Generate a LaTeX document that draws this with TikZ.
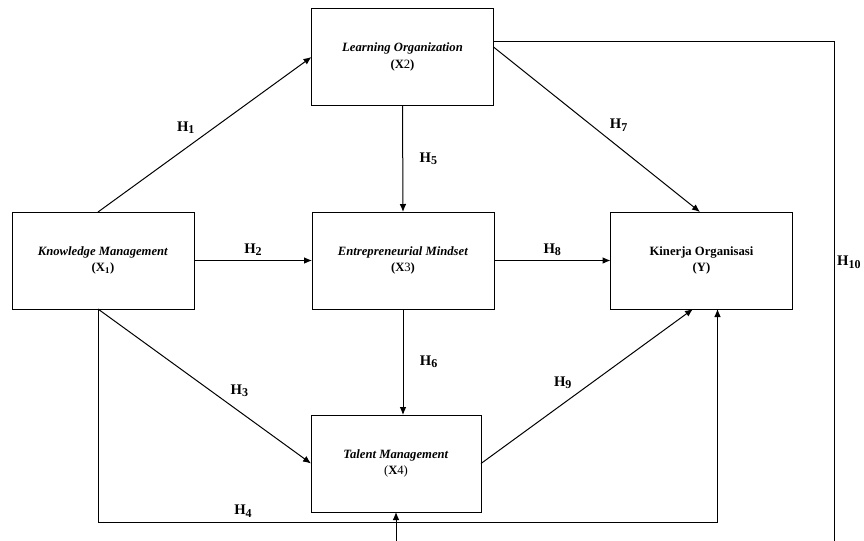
\documentclass[tikz,border=0pt]{standalone}
\usepackage{fontspec}
\setmainfont{Liberation Serif}
\usetikzlibrary{arrows.meta,positioning,calc}
\tikzset{
  >={Latex[length=6pt,width=5pt]},
  var/.style={draw, align=center, minimum width=136.5pt, minimum height=72.75pt, inner sep=2pt, outer sep=0pt, font=\fontsize{9.5}{12.5}\selectfont},
  smallvar/.style={var, minimum width=127.5pt},
  hyp/.style={font=\fontsize{11}{13}\selectfont\bfseries},
}
\newcommand{\hlab}[1]{H\raisebox{-0.35ex}{\fontsize{9}{10}\selectfont #1}}

\begin{document}
\begin{tikzpicture}[x=0.75pt, y=-0.75pt, line width=0.75pt]
  \useasboundingbox (0,0) rectangle (864,540);
  \clip (0,0) rectangle (864,540);

  \node[var] (lo) at (402.5,57) {\textbf{\textit{Learning Organization}}\\\textbf{(X}2\textbf{)}};
  \node[var] (km) at (103,260.5) {\textbf{\textit{Knowledge Management}}\\\textbf{(X\textsubscript{1})}};
  \node[var] (em) at (403,260.5) {\textbf{\textit{Entrepreneurial Mindset}}\\\textbf{(X}3\textbf{)}};
  \node[var] (y) at (701.5,260.5) {\textbf{Kinerja Organisasi}\\\textbf{(Y)}};
  \node[smallvar] (tm) at (396,463.5) {\textbf{\textit{Talent Management}}\\(\textbf{X}4)};

  \coordinate (kmb) at ($(km.south)+(-5,0)$);
  \coordinate (rbend) at (834,560);

  \draw[->] ($(km.north)+(-5,0)$) -- node[hyp, pos=0.475, above left] {\hlab{1}} (lo.west);
  \draw[->] (km.east) -- node[hyp, above] {\hlab{2}} (em.west);
  \draw[->] (kmb) -- node[hyp, pos=0.6, above right] {\hlab{3}} (tm.west);
  \draw[->] (kmb) -- ++(0,213) -| node[hyp, pos=0.117, above] {\hlab{4}} ($(y.south)+(16,0)$);
  \draw[->] (lo.south) -- node[hyp, right=9pt] {\hlab{5}} (em.north);
  \draw[->] (em.south) -- node[hyp, right=9pt] {\hlab{6}} (em.south |- tm.north);
  \draw[->] ($(lo.east)+(0,-10)$) -- node[hyp, pos=0.54, above right] {\hlab{7}} ($(y.north)+(-1.5,0)$);
  \draw[->] (em.east) -- node[hyp, above] {\hlab{8}} (y.west);
  \draw[->] (tm.east) -- node[hyp, pos=0.45, above left] {\hlab{9}} ($(y.south)+(-8.5,0)$);
  \draw[->] ($(lo.east)+(0,-16)$) -| node[hyp, pos=0.713, right=0.5pt, inner sep=1.5pt] {\hlab{10}} (rbend) -| (tm.south);
\end{tikzpicture}
\end{document}
